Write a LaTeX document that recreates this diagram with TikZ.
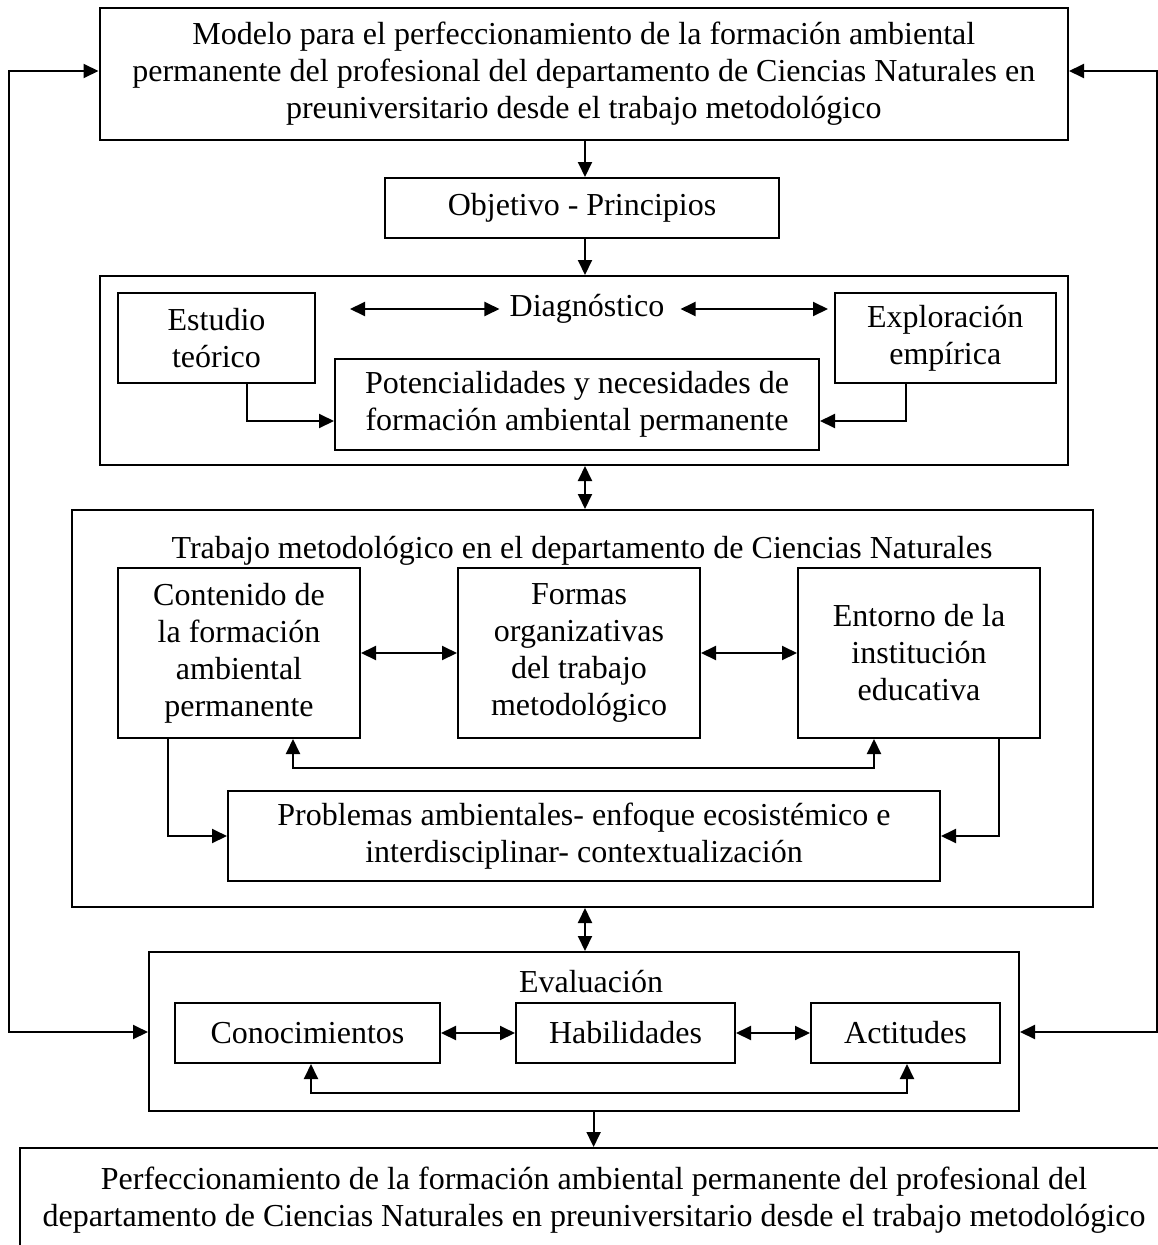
\documentclass[tikz,border=0pt]{standalone}
\usepackage{fontspec}
\setmainfont{Liberation Serif}
\usetikzlibrary{arrows.meta}
\newcommand{\myfs}{\fontsize{32}{37}\selectfont}
\begin{document}
\begin{tikzpicture}[x=1pt,y=-1pt,
  box/.style={draw, line width=2pt, inner sep=0pt, align=center, font=\myfs},
  lab/.style={inner sep=0pt, font=\myfs, anchor=base},
  arr/.style={line width=2pt, -{Triangle[length=15pt,width=14pt]}},
  darr/.style={line width=2pt, {Triangle[length=15pt,width=14pt]}-{Triangle[length=15pt,width=14pt]}}]
\useasboundingbox (0,0) rectangle (1158,1245);
\clip (0,0) rectangle (1158,1245);
\fill[white] (0,0) rectangle (1158,1245);

% top
\node[box, minimum width=968.5pt, minimum height=132pt] (top) at (583.75,74)
  {Modelo para el perfeccionamiento de la formación ambiental\\permanente del profesional del departamento de Ciencias Naturales en\\preuniversitario desde el trabajo metodológico};
\node[box, minimum width=394pt, minimum height=60pt] (obj) at (582,208) {Objetivo - Principios};

% diagnostico
\node[box, minimum width=968.5pt, minimum height=189pt] (diag) at (583.75,370.5) {};
\node[lab] (diaglab) at (587,316) {Diagnóstico};
\node[box, minimum width=197pt, minimum height=90pt] (est) at (216.5,338) {Estudio\\teórico};
\node[box, minimum width=220.5pt, minimum height=90pt] (exp) at (945.25,338) {Exploración\\empírica};
\node[box, minimum width=484pt, minimum height=91pt] (pot) at (577,404.5) {Potencialidades y necesidades de\\formación ambiental permanente};
\coordinate (dl) at ([shift={(-10pt,7pt)}]diaglab.base west);
\coordinate (dr) at ([shift={(16pt,7pt)}]diaglab.base east);

% trabajo
\node[box, minimum width=1021pt, minimum height=397pt] (trab) at (582,708.5) {};
\node[lab] (trablab) at (582,558) {Trabajo metodológico en el departamento de Ciencias Naturales};
\node[box, minimum width=242pt, minimum height=170pt] (con) at (239,653) {Contenido de\\la formación\\ambiental\\permanente};
\node[box, minimum width=242pt, minimum height=170pt] (for) at (579,653) {Formas\\organizativas\\del trabajo\\metodológico};
\node[box, minimum width=242pt, minimum height=170pt] (ent) at (919,653) {Entorno de la\\institución\\educativa};
\node[box, minimum width=712pt, minimum height=90pt] (pro) at (584,836) {Problemas ambientales- enfoque ecosistémico e\\interdisciplinar- contextualización};

% evaluacion
\node[box, minimum width=870pt, minimum height=159pt] (eval) at (584,1031.5) {};
\node[lab] (evallab) at (591,992) {Evaluación};
\node[box, minimum width=265pt, minimum height=60pt] (cono) at (307.5,1033) {Conocimientos};
\node[box, minimum width=219pt, minimum height=60pt] (hab) at (625.5,1033) {Habilidades};
\node[box, minimum width=189pt, minimum height=60pt] (act) at (905.5,1033) {Actitudes};

% bottom
\node[box, minimum width=1148pt, minimum height=104pt] (bot) at (594,1200)
  {Perfeccionamiento de la formación ambiental permanente del profesional del\\departamento de Ciencias Naturales en preuniversitario desde el trabajo metodológico};

% connectors
\draw[arr] (top.south -| 585,0) -- (obj.north -| 585,0);
\draw[arr] (obj.south -| 585,0) -- (diag.north -| 585,0);
\draw[darr] (dl) -- (dl -| 350,0);
\draw[darr] (dr) -- (dr -| 828,0);
\draw[arr] (est.south -| 247,0) |- (pot.west |- 0,421);
\draw[arr] (exp.south -| 905.5,0) |- (pot.east |- 0,421);
\draw[darr] (diag.south -| 585,0) -- (trab.north -| 585,0);

\draw[darr] (con) -- (for);
\draw[darr] (for) -- (ent);
\draw[darr] (con.south -| 293,0) -- (293,768) -| (ent.south -| 874,0);
\draw[arr] (con.south -| 167.6,0) |- (pro.west);
\draw[arr] (ent.south -| 999,0) |- (pro.east);
\draw[darr] (trab.south -| 585,0) -- (eval.north -| 585,0);

\draw[darr] (cono) -- (hab);
\draw[darr] (hab) -- (act);
\draw[darr] (cono.south -| 311,0) -- (311,1093) -| (act.south -| 907,0);
\draw[arr] (eval.south -| 593.6,0) -- (bot.north -| 593.6,0);

\draw[darr] (top.west |- 0,71) -- (9,71) -- (9,1032) -- (eval.west |- 0,1032);
\draw[darr] (top.east |- 0,71) -- (1157,71) -- (1157,1032) -- (eval.east |- 0,1032);
\end{tikzpicture}
\end{document}
